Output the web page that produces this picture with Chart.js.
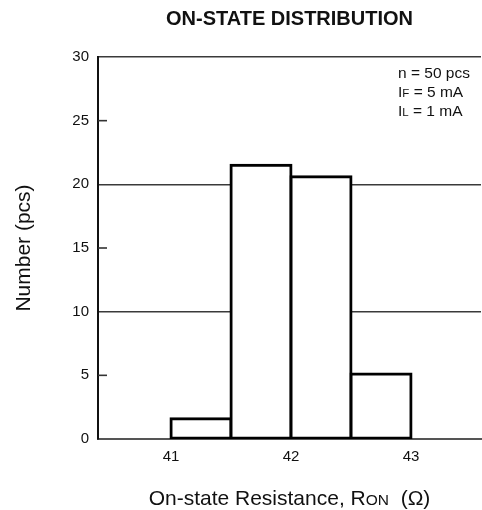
<!DOCTYPE html>
<html>
<head>
<meta charset="utf-8">
<title>On-state distribution</title>
<script src="https://cdn.jsdelivr.net/npm/chart.js@4.4.1/dist/chart.umd.min.js"></script>
<style>
  html, body { margin: 0; padding: 0; background: #fff; }
  #chart { display: block; }
</style>
</head>
<body>
<canvas id="chart" width="482" height="510"></canvas>
<script>
// datos
const binCenters = [41.25, 41.75, 42.25, 42.75]
const counts = [1.6, 21.5, 20.6, 5.1]
const xTicks = [41, 42, 43]
const yTicks = [0, 5, 10, 15, 20, 25, 30]
const gridValues = [10, 20, 30]
const minorMarks = [5, 15, 25]

const X_MIN = 40.392
const X_MAX = 43.583
const FONT = '"Liberation Sans", Arial, sans-serif'
const INK = "#111"

// dibuja texto con partes de distinto tamaño (subíndices tipo versalita)
function drawParts(ctx, parts, x, y, align) {
  let total = 0
  parts.forEach((p) => {
    ctx.font = (p.bold ? "bold " : "") + p.size + "px " + FONT
    p.w = ctx.measureText(p.text).width
    total += p.w
  })
  let cx = align === "center" ? x - total / 2 : x
  parts.forEach((p) => {
    ctx.font = (p.bold ? "bold " : "") + p.size + "px " + FONT
    ctx.fillText(p.text, cx, y)
    cx += p.w
  })
}

const decorations = {
  id: "decorations",
  beforeDatasetsDraw(chart) {
    // marcas cortas hacia dentro en 5, 15, 25
    const ctx = chart.ctx
    const y = chart.scales.y
    const left = chart.chartArea.left
    ctx.save()
    ctx.strokeStyle = "#333"
    ctx.lineWidth = 1.6
    minorMarks.forEach((v) => {
      const py = y.getPixelForValue(v)
      ctx.beginPath()
      ctx.moveTo(left, py)
      ctx.lineTo(left + 9, py)
      ctx.stroke()
    })
    ctx.restore()
  },
  afterDraw(chart) {
    const ctx = chart.ctx
    const area = chart.chartArea
    const mid = (area.left + area.right) / 2
    ctx.save()
    ctx.fillStyle = INK
    ctx.textBaseline = "alphabetic"
    ctx.textAlign = "left"

    // título
    drawParts(ctx, [{ text: "ON-STATE DISTRIBUTION", size: 20, bold: true }], mid, 25, "center")

    // título eje x
    drawParts(
      ctx,
      [
        { text: "On-state Resistance, R", size: 21 },
        { text: "ON", size: 15.5 },
        { text: "  (Ω)", size: 21 },
      ],
      mid,
      505,
      "center",
    )

    // condiciones de medida
    const tx = 398
    drawParts(ctx, [{ text: "n = 50 pcs", size: 15.5 }], tx, 77.5)
    drawParts(ctx, [{ text: "I", size: 15.5 }, { text: "F", size: 11.5 }, { text: " = 5 mA", size: 15.5 }], tx, 96.5)
    drawParts(ctx, [{ text: "I", size: 15.5 }, { text: "L", size: 11.5 }, { text: " = 1 mA", size: 15.5 }], tx, 115.5)

    // título eje y
    ctx.translate(24, (area.top + area.bottom) / 2)
    ctx.rotate(-Math.PI / 2)
    ctx.textAlign = "center"
    ctx.textBaseline = "middle"
    ctx.font = "21px " + FONT
    ctx.fillText("Number (pcs)", 0, 0)
    ctx.restore()
  },
}

function createChart() {
  const ctx = document.getElementById("chart").getContext("2d")
  new Chart(ctx, {
    type: "bar",
    data: {
      datasets: [
        {
          data: binCenters.map((x, i) => ({ x: x, y: counts[i] })),
          backgroundColor: "#fff",
          borderColor: "#000",
          borderWidth: 3,
          borderSkipped: false,
          inflateAmount: 1.5,
          barPercentage: 1,
          categoryPercentage: 1,
        },
      ],
    },
    options: {
      responsive: false,
      animation: false,
      layout: { padding: { top: 57, right: 1, left: 0, bottom: 0 } },
      plugins: {
        legend: { display: false },
        tooltip: { enabled: false },
      },
      scales: {
        x: {
          type: "linear",
          min: X_MIN,
          max: X_MAX,
          offset: false,
          grid: { display: false, offset: false, drawTicks: false },
          border: { display: true, color: "#555", width: 2 },
          ticks: { padding: 9, color: INK, font: { family: FONT, size: 15 } },
          afterBuildTicks: (s) => {
            s.ticks = xTicks.map((v) => ({ value: v }))
          },
          afterFit: (s) => {
            s.height = 71
          },
        },
        y: {
          min: 0,
          max: 30,
          grid: {
            drawTicks: false,
            lineWidth: 1.6,
            color: (c) => (gridValues.includes(c.tick && c.tick.value) ? "#3a3a3a" : "rgba(0,0,0,0)"),
          },
          border: { display: true, color: "#111", width: 2 },
          ticks: { padding: 9, color: INK, font: { family: FONT, size: 15 } },
          afterBuildTicks: (s) => {
            s.ticks = yTicks.map((v) => ({ value: v }))
          },
          afterFit: (s) => {
            s.width = 98
          },
        },
      },
    },
    plugins: [decorations],
  })
}

createChart()
</script>
</body>
</html>
